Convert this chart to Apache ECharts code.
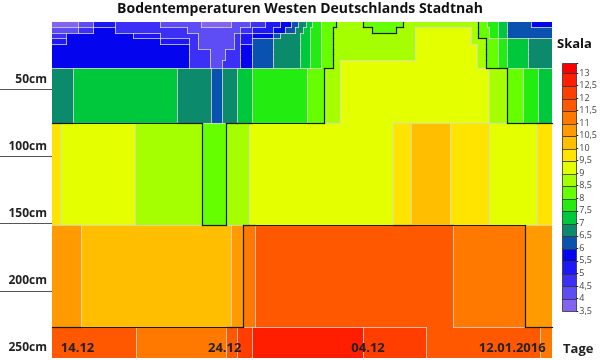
<!DOCTYPE html>
<html><head><meta charset="utf-8">
<script src="https://cdn.jsdelivr.net/npm/echarts@6/dist/echarts.min.js"></script>
<style>html,body{margin:0;padding:0;background:#fff}#c{width:600px;height:360px}</style>
</head><body><div id="c"></div>
<script>
// Depth boundaries (cm) of the rows of the temperature field
const depthEdges = [0, 4, 8, 12, 16, 20, 24, 28, 34.2, 75.1, 151, 227, 250];
// Day boundaries (days since the start of the series) for each row
const rowBreaks = [
  [0,1.7,2.7,4.2,7.2,9.9,11.9,13.2,14.2,15.2,15.9,16.4,16.9,17.3,17.9,18.9,20.7,23.4,28.4,29.0,29.7,30.3,31.9,33.3],
  [0,1.7,2.7,4.2,9.0,12.5,13.3,14.7,15.5,16.2,16.7,17.2,17.9,18.7,21.3,22.9,24.2,27.9,28.4,29.1,29.7,30.3,33.3],
  [0,0.9,5.4,7.2,9.7,12.1,12.5,13.3,14.7,15.2,16.5,17.2,17.9,18.7,24.2,27.9,28.4,29.1,29.7,30.3,33.3],
  [0,0.9,7.2,9.1,9.7,12.1,12.5,13.3,14.7,16.5,17.2,17.9,18.7,24.2,27.9,28.9,29.7,30.3,31.7,33.3],
  [0,9.1,9.7,12.1,12.5,13.3,14.7,16.5,17.2,17.9,18.7,24.2,28.3,28.9,29.7,30.3,31.7,33.3],
  [0,9.1,10.5,11.5,12.5,13.3,14.7,16.5,17.2,17.9,18.7,24.2,28.3,28.9,29.7,30.3,31.7,33.3],
  [0,9.1,10.5,11.5,12.5,13.3,14.7,16.5,17.2,17.9,18.7,24.2,28.3,28.9,29.7,30.3,31.7,33.3],
  [0,9.1,10.5,11.3,12.5,13.3,14.7,16.5,17.2,17.9,18.7,19.2,28.3,28.9,29.7,30.3,31.7,33.3],
  [0,1.4,8.3,10.6,11.3,12.3,13.3,17.0,18.1,19.2,29.1,30.3,31.4,32.4,33.3],
  [0,0.5,5.5,10.0,11.6,13.1,22.7,23.9,26.5,29.1,32.3,33.3],
  [0,1.9,11.9,12.7,13.5,26.7,31.5,33.3],
  [0,5.6,11.6,12.3,13.3,20.7,24.9,32.5,33.3]
];
// Soil temperature (°C) in each interval of each row
const rowTemps = [
  [3.5,4.0,5.0,4.5,4.0,3.5,4.0,4.5,5.0,5.5,6.0,6.5,7.0,7.5,8.0,8.5,8.0,8.5,8.0,7.5,7.0,6.0,5.5],
  [4.0,4.5,5.5,4.5,4.0,4.5,5.0,5.5,6.0,6.5,7.0,7.5,8.0,8.5,8.0,8.5,9.0,8.5,8.0,7.5,7.0,6.0],
  [4.5,5.5,5.0,4.5,4.0,4.5,5.0,5.5,6.0,6.5,7.0,7.5,8.0,8.5,9.0,8.5,8.0,7.5,7.0,6.0],
  [5.0,5.5,5.0,4.5,4.0,4.5,5.0,6.0,6.5,7.0,7.5,8.0,8.5,9.0,8.5,8.0,7.5,7.0,6.5],
  [5.5,4.5,4.0,4.5,5.5,6.0,6.5,7.0,7.5,8.0,8.5,9.0,8.5,8.0,7.5,7.0,6.5],
  [5.5,4.5,4.0,4.5,5.5,6.0,6.5,7.0,7.5,8.0,8.5,9.0,8.5,8.0,7.5,7.0,6.5],
  [5.5,4.5,4.0,4.5,5.5,6.0,6.5,7.0,7.5,8.0,8.5,9.0,8.5,8.0,7.5,7.0,6.5],
  [5.5,4.5,4.0,4.5,5.5,6.0,6.5,7.0,7.5,8.0,8.5,9.0,8.5,8.0,7.5,7.0,6.5],
  [6.5,7.0,6.5,6.0,6.5,7.0,7.5,8.0,8.5,9.0,8.5,8.0,7.5,7.0],
  [9.5,9.0,8.5,8.0,8.5,9.0,9.5,10.0,9.5,9.0,9.5],
  [10.5,10.0,10.5,11.0,11.5,11.0,10.5],
  [11.5,11.0,11.5,12.0,12.5,12.0,11.5,11.0]
];
// Colour scale (lower bound of each class)
const scaleLevels = [3.5,4,4.5,5,5.5,6,6.5,7,7.5,8,8.5,9,9.5,10,10.5,11,11.5,12,12.5,13];
const scaleColors = ['#8264f0','#5e4cf4','#3c30f6','#1e18f8','#0404ee','#0a52b0','#0b8a6c','#00c83c','#22ec10','#66ff00',
                     '#a6ff00','#e4ff00','#ffe400','#ffbe00','#ff9a00','#ff7800','#ff5800','#ff3e00','#ff1e00','#ff0000'];
const contourLevels = [8.5, 11];
const xLabelDays = [1.7, 11.5, 21.05, 30.65];
const xLabelTexts = ['14.12', '24.12', '04.12', '12.01.2016'];
const depthTicks = [50, 100, 150, 200, 250];

function colorFor(v) {
  let i = Math.floor((v - 3.5) / 0.5 + 1e-6);
  i = Math.max(0, Math.min(scaleColors.length - 1, i));
  return scaleColors[i];
}
function valAt(r, x) {
  const b = rowBreaks[r];
  for (let i = 0; i < b.length - 1; i++) if (x >= b[i] && x < b[i + 1]) return rowTemps[r][i];
  return rowTemps[r][rowTemps[r].length - 1];
}
function crosses(a, b) {
  return contourLevels.some(L => Math.min(a, b) < L && Math.max(a, b) >= L);
}

const cells = [];
const lightSegs = [], contourSegs = [];
for (let r = 0; r < rowBreaks.length; r++) {
  const b = rowBreaks[r], t = rowTemps[r];
  for (let i = 0; i < t.length; i++) cells.push([b[i], b[i + 1], depthEdges[r], depthEdges[r + 1], t[i]]);
  for (let i = 1; i < t.length; i++) {
    if (t[i - 1] !== t[i]) {
      const s = [b[i], depthEdges[r], b[i], depthEdges[r + 1]];
      (crosses(t[i - 1], t[i]) ? contourSegs : lightSegs).push(s);
    }
  }
}
for (let r = 0; r < rowBreaks.length - 1; r++) {
  const xs = Array.from(new Set(rowBreaks[r].concat(rowBreaks[r + 1]))).sort((a, b) => a - b);
  const y = depthEdges[r + 1];
  for (let j = 0; j < xs.length - 1; j++) {
    const m = (xs[j] + xs[j + 1]) / 2;
    const va = valAt(r, m), vb = valAt(r + 1, m);
    if (va !== vb) (crosses(va, vb) ? contourSegs : lightSegs).push([xs[j], y, xs[j + 1], y]);
  }
}
const legendBoxes = scaleLevels.map(l => [l, Math.min(l + 0.5, 13.4)]);

function rectItem(params, api) {
  const p0 = api.coord([api.value(0), api.value(2)]);
  const p1 = api.coord([api.value(1), api.value(3)]);
  const x = Math.round(p0[0]), x2 = Math.round(p1[0]);
  const y = Math.round(p0[1]), y2 = Math.round(p1[1]);
  return { type: 'rect', shape: { x: x, y: y, width: x2 - x, height: y2 - y }, style: { fill: colorFor(api.value(4)) } };
}
function lineItem(color, w) {
  return function (params, api) {
    const a = api.coord([api.value(0), api.value(1)]);
    const b = api.coord([api.value(2), api.value(3)]);
    return { type: 'line', shape: { x1: Math.round(a[0]) + 0.5, y1: Math.round(a[1]) + 0.5, x2: Math.round(b[0]) + 0.5, y2: Math.round(b[1]) + 0.5 },
             style: { stroke: color, lineWidth: w, lineCap: 'square' } };
  };
}

const chart = echarts.init(document.getElementById('c'), null, { renderer: 'canvas' });
const font = "'Open Sans', sans-serif";
chart.setOption({
  animation: false,
  backgroundColor: '#ffffff',
  textStyle: { fontFamily: font },
  title: [
    { text: 'Bodentemperaturen Westen Deutschlands Stadtnah', left: 'center', top: 2, padding: 0,
      textStyle: { fontSize: 14, fontWeight: 'bold', color: '#111', fontFamily: font } },
    { text: 'Skala', left: 557, top: 38, padding: 0,
      textStyle: { fontSize: 13, fontWeight: 'bold', color: '#111', fontFamily: font } }
  ],
  grid: [
    { left: 52, top: 22, width: 500, height: 336 },
    { left: 562, top: 63, width: 15, height: 248 }
  ],
  xAxis: [
    { gridIndex: 0, type: 'value', min: 0, max: 33.3, position: 'bottom', z: 10, name: 'Tage', nameLocation: 'end', nameGap: 11,
      nameTextStyle: { fontSize: 13, fontWeight: 'bold', color: '#222', verticalAlign: 'bottom', padding: [0, 0, 2, 0], fontFamily: font },
      axisLine: { show: false, onZero: false }, axisTick: { show: false }, splitLine: { show: false },
      axisLabel: { inside: true, customValues: xLabelDays, margin: 3, fontSize: 13, fontWeight: 'bold', color: '#222', fontFamily: font,
        formatter: function (v) { const i = xLabelDays.indexOf(v); return i >= 0 ? xLabelTexts[i] : ''; } } },
    { gridIndex: 1, type: 'value', min: 0, max: 1, show: false }
  ],
  yAxis: [
    { gridIndex: 0, type: 'value', inverse: true, min: 0, max: 250, interval: 50,
      axisLine: { show: false, onZero: false }, splitLine: { show: false },
      axisTick: { show: true, length: 52, customValues: [50, 100, 150, 200], lineStyle: { color: '#555', width: 1 } },
      axisLabel: { customValues: depthTicks, margin: 5, fontSize: 12, fontWeight: 'bold', color: '#222', fontFamily: font,
        verticalAlign: 'bottom', padding: [0, 0, 4, 0], formatter: function (v) { return v + 'cm'; } } },
    { gridIndex: 1, type: 'value', min: 3.5, max: 13.4, interval: 0.5, position: 'right',
      axisLine: { show: false, onZero: false }, splitLine: { show: false },
      axisTick: { show: true, length: 2, lineStyle: { color: '#222', width: 1 } },
      axisLabel: { margin: 3, fontSize: 9, color: '#444', fontFamily: font,
        formatter: function (v) { return v > 13.01 ? '' : String(v).replace('.', ','); } } }
  ],
  series: [
    { type: 'custom', xAxisIndex: 0, yAxisIndex: 0, renderItem: rectItem, data: cells, silent: true, clip: false },
    { type: 'custom', xAxisIndex: 0, yAxisIndex: 0, renderItem: lineItem('rgba(215,215,215,0.8)', 1), data: lightSegs, silent: true, clip: false },
    { type: 'custom', xAxisIndex: 0, yAxisIndex: 0, renderItem: lineItem('#1a1a1a', 1.2), data: contourSegs, silent: true, clip: false },
    { type: 'custom', xAxisIndex: 1, yAxisIndex: 1, silent: true, clip: false, data: legendBoxes,
      renderItem: function (params, api) {
        const p0 = api.coord([0, api.value(1)]);
        const p1 = api.coord([1, api.value(0)]);
        return { type: 'rect', shape: { x: Math.round(p0[0]) + 0.5, y: Math.round(p0[1]) + 0.5, width: Math.round(p1[0] - p0[0]), height: Math.round(p1[1] - p0[1]) },
                 style: { fill: colorFor(api.value(0)), stroke: '#333', lineWidth: 0.8 } };
      } }
  ]
});
</script>
</body></html>
